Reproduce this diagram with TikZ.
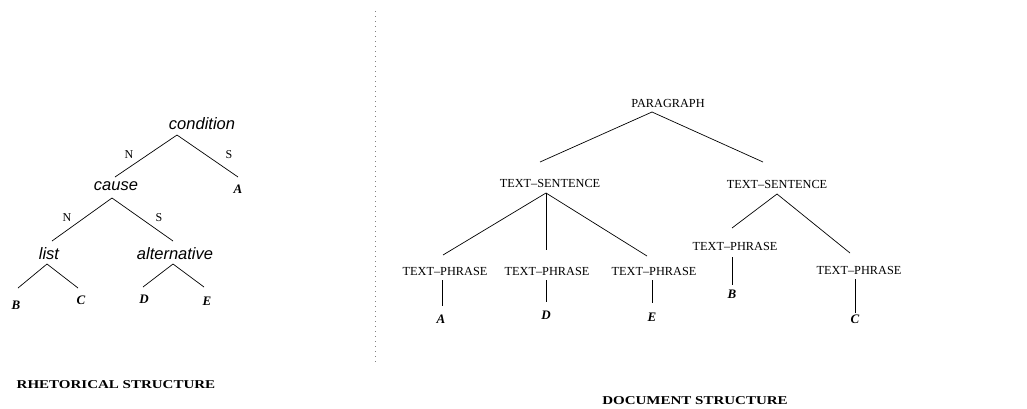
\documentclass[tikz,border=0pt]{standalone}
\usepackage{fontspec}
\usepackage{graphicx}
\setmainfont{Liberation Serif}
\newfontfamily\hsans{Liberation Sans}
\usetikzlibrary{calc}
\begin{document}
\begin{tikzpicture}[x=1pt,y=-1pt,
  rel/.style={font=\hsans\itshape\fontsize{16.5}{18}\selectfont, inner sep=0pt},
  leaf/.style={font=\bfseries\itshape\fontsize{13}{15}\selectfont, inner sep=0pt},
  ns/.style={font=\fontsize{12}{14}\selectfont, inner sep=0pt},
  cat/.style={font=\fontsize{12.3}{14}\selectfont, inner sep=0pt},
  ttl/.style={font=\bfseries\fontsize{12}{14}\selectfont, inner sep=0pt},
  edge/.style={line width=0.7pt},
  sep/.style={gray, line width=0.8pt, dash pattern=on 0.8pt off 4.2pt}]
\useasboundingbox (0,0) rectangle (1027,408);
% left tree
\node[rel] (cond) at (202,124) {condition};
\node[rel] (cause) at (116,186) {cause};
\node[leaf] (lA) at (238,189) {A};
\node[rel] (list) at (49,254) {list};
\node[rel] (alt) at (175,254) {alternative};
\node[leaf] (lB) at (16,305) {B};
\node[leaf] (lC) at (81,300) {C};
\node[leaf] (lD) at (144,299) {D};
\node[leaf] (lE) at (207,301) {E};
\node[ns] (n1) at (129,155) {N};
\node[ns] (s1) at (229,155) {S};
\node[ns] (n2) at (67,218) {N};
\node[ns] (s2) at (159,218) {S};
\draw[edge] ($(cond)+(-25,11)$) -- ($(cause)+(-1,-9)$);
\draw[edge] ($(cond)+(-25,11)$) -- ($(lA)+(0,-12)$);
\draw[edge] ($(cause)+(-4,12)$) -- ($(list)+(3,-13)$);
\draw[edge] ($(cause)+(-4,12)$) -- ($(alt)+(-2,-13)$);
\draw[edge] ($(list)+(-2,10)$) -- ($(lB)+(2,-17)$);
\draw[edge] ($(list)+(-2,10)$) -- ($(lC)+(-3,-12)$);
\draw[edge] ($(alt)+(-2,10)$) -- ($(lD)+(-1,-12)$);
\draw[edge] ($(alt)+(-2,10)$) -- ($(lE)+(-3,-14)$);
% separator
\coordinate (septop) at (375,11);
\coordinate (sepbot) at (375,363);
\draw[sep] (septop) -- (sepbot);
% right tree
\node[cat] (para) at (668,103) {PARAGRAPH};
\node[cat] (tsl) at (550,183) {TEXT--SENTENCE};
\node[cat] (tsr) at (777,184) {TEXT--SENTENCE};
\node[cat] (tp1) at (445,271) {TEXT--PHRASE};
\node[cat] (tp2) at (547,271) {TEXT--PHRASE};
\node[cat] (tp3) at (654,271) {TEXT--PHRASE};
\node[cat] (tp4) at (735,246) {TEXT--PHRASE};
\node[cat] (tp5) at (859,270) {TEXT--PHRASE};
\node[leaf] (rA) at (441,319) {A};
\node[leaf] (rD) at (546,315) {D};
\node[leaf] (rE) at (652,317) {E};
\node[leaf] (rB) at (732,294) {B};
\node[leaf] (rC) at (855,319) {C};
\draw[edge] ($(para)+(-16,9)$) -- ($(tsl)+(-10,-21)$);
\draw[edge] ($(para)+(-16,9)$) -- ($(tsr)+(-14,-22)$);
\draw[edge] ($(tsl)+(-4,10)$) -- ($(tp1)+(-2,-16)$);
\draw[edge] ($(tsl)+(-4,10)$) -- ($(tp2)+(-1,-21)$);
\draw[edge] ($(tsl)+(-4,10)$) -- ($(tp3)+(-7,-15)$);
\draw[edge] ($(tp1)+(-3,9)$) -- ($(rA)+(1,-13)$);
\draw[edge] ($(tp2)+(-1,9)$) -- ($(rD)+(0,-13)$);
\draw[edge] ($(tp3)+(-2,9)$) -- ($(rE)+(0,-14)$);
\draw[edge] ($(tsr)+(0,10)$) -- ($(tp4)+(-3,-18)$);
\draw[edge] ($(tsr)+(0,10)$) -- ($(tp5)+(-9,-17)$);
\draw[edge] ($(tp4)+(-3,11)$) -- ($(rB)+(0,-9)$);
\draw[edge] ($(tp5)+(-4,9)$) -- ($(rC)+(0,-6)$);
% titles
\node[ttl] (t1) at (116,385) {\scalebox{1.25}[1]{RHETORICAL STRUCTURE}};
\node[ttl] (t2) at (695,401) {\scalebox{1.25}[1]{DOCUMENT STRUCTURE}};
\end{tikzpicture}
\end{document}
